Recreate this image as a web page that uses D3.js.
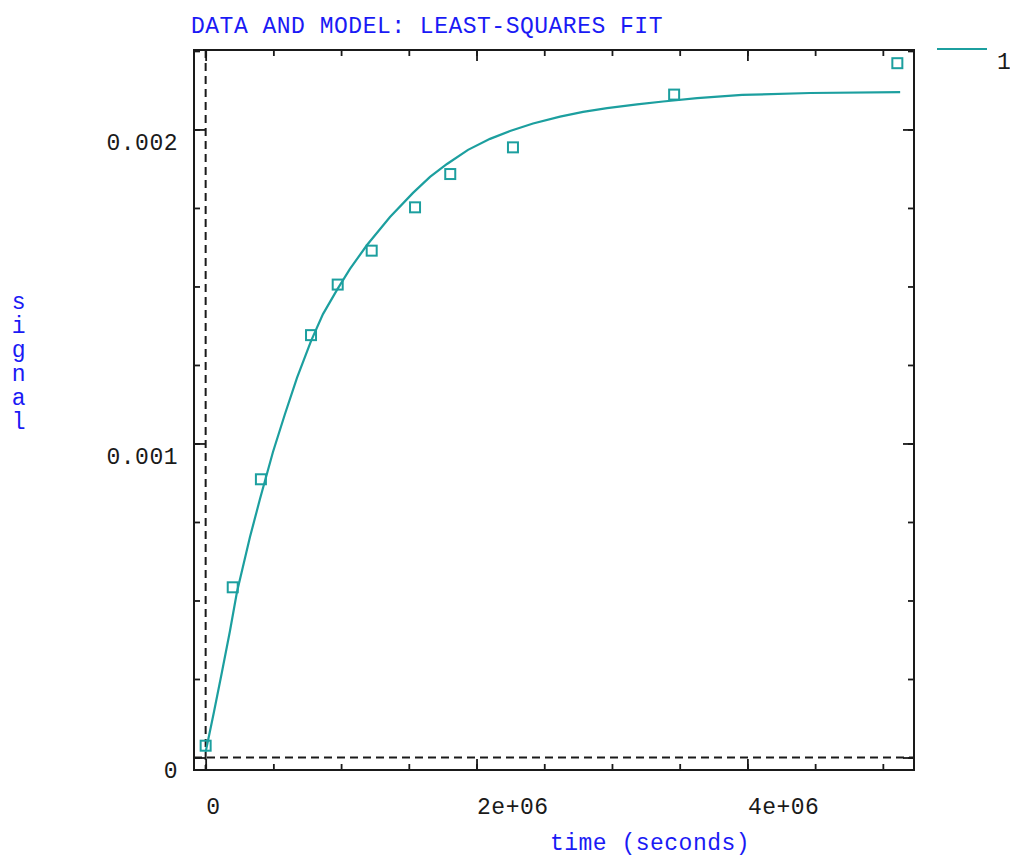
<!DOCTYPE html>
<html>
<head>
<meta charset="utf-8">
<script src="https://cdn.jsdelivr.net/npm/d3@7"></script>
<style>
  body { margin: 0; background: #fff; }
  text { font-family: "Liberation Mono", "DejaVu Sans Mono", monospace; font-size: 23px; letter-spacing: 0.5px; }
</style>
</head>
<body>
<div id="chart"></div>
<script>
const width = 1010;
const height = 857;
const teal = "#1c9f9f";
const blue = "#1a1af5";
const ink = "#1a1a1a";

// measured data points (time in seconds, signal)
const timeData = [0, 0.2e6, 0.408e6, 0.778e6, 0.975e6, 1.226e6, 1.546e6, 1.806e6, 2.269e6, 3.459e6, 5.107e6];
const signalData = [0.0000376, 0.000542, 0.000886, 0.001345, 0.001506, 0.001614, 0.001752, 0.001858, 0.001943, 0.002111, 0.002211];

// model curve
const modelTime = [0, 0.0613e6, 0.1204e6, 0.1795e6, 0.2312e6, 0.3272e6, 0.4010e6, 0.4970e6, 0.5857e6, 0.6743e6,
    0.7777e6, 0.8663e6, 0.9697e6, 1.0657e6, 1.1913e6, 1.3611e6, 1.5310e6, 1.6566e6, 1.7821e6, 1.9372e6,
    2.0997e6, 2.2474e6, 2.4173e6, 2.6167e6, 2.7866e6, 2.9638e6, 3.1854e6, 3.3774e6, 3.6285e6, 3.9609e6,
    4.4631e6, 5.1278e6];
const modelSignal = [0.0000175, 0.000145, 0.000272, 0.000403, 0.000527, 0.000702, 0.000823, 0.000973, 0.001094, 0.001209,
    0.001326, 0.001412, 0.001489, 0.001556, 0.001632, 0.001721, 0.001798, 0.001849, 0.001890, 0.001935,
    0.001970, 0.001995, 0.002019, 0.002041, 0.002056, 0.002068, 0.002080, 0.002089, 0.002100, 0.002110,
    0.002116, 0.002119];

const xMajor = [0, 2e6, 4e6];
const xMinor = d3.range(11).map(i => i * 0.5e6);
const yMajor = [0, 0.001, 0.002];
const yMinor = d3.range(10).map(i => i * 0.00025);

const plotLeft = 194, plotRight = 914, plotTop = 50, plotBottom = 770;

const x = d3.scaleLinear().domain([-0.086e6, 5.23e6]).range([plotLeft, plotRight]);
const y = d3.scaleLinear().domain([-0.0000398, 0.002253]).range([plotBottom, plotTop]);

const fmtX = d => d === 0 ? "0" : d3.format(".0e")(d).replace(/e\+(\d)$/, "e+0$1");
const fmtY = d => d === 0 ? "0" : String(+d.toFixed(4));

const svg = d3.select("#chart").append("svg")
    .attr("width", width)
    .attr("height", height);

// zero axes, dashed
svg.append("line")
    .attr("x1", x(0)).attr("x2", x(0))
    .attr("y1", plotTop).attr("y2", plotBottom)
    .attr("stroke", ink).attr("stroke-width", 2)
    .attr("stroke-dasharray", "8,5");
svg.append("line")
    .attr("x1", plotLeft).attr("x2", plotRight)
    .attr("y1", y(0)).attr("y2", y(0))
    .attr("stroke", ink).attr("stroke-width", 2)
    .attr("stroke-dasharray", "8,5");

function tickAxis(axisFn, pos, scale, values, size) {
    const g = svg.append("g")
        .attr("transform", pos)
        .call(axisFn(scale).tickValues(values).tickSize(-size).tickFormat(""));
    g.select(".domain").remove();
    g.selectAll("line").attr("stroke", ink).attr("stroke-width", 1.8);
    return g;
}

// minor + major ticks on all four sides
tickAxis(d3.axisBottom, `translate(0,${plotBottom})`, x, xMinor, 6);
tickAxis(d3.axisTop, `translate(0,${plotTop})`, x, xMinor, 6);
tickAxis(d3.axisBottom, `translate(0,${plotBottom})`, x, xMajor, 11);
tickAxis(d3.axisTop, `translate(0,${plotTop})`, x, xMajor, 11);
tickAxis(d3.axisLeft, `translate(${plotLeft},0)`, y, yMinor, 6);
tickAxis(d3.axisRight, `translate(${plotRight},0)`, y, yMinor, 6);
tickAxis(d3.axisLeft, `translate(${plotLeft},0)`, y, yMajor, 11);
tickAxis(d3.axisRight, `translate(${plotRight},0)`, y, yMajor, 11);

// tick labels
const xLab = svg.append("g")
    .attr("transform", `translate(0,${plotBottom})`)
    .call(d3.axisBottom(x).tickValues(xMajor).tickSize(0).tickFormat(fmtX));
xLab.select(".domain").remove();
xLab.selectAll("text")
    .attr("y", 44).attr("dy", 0)
    .attr("text-anchor", "start")
    .attr("fill", ink)
    .style("font-size", "23px");

const yLab = svg.append("g")
    .attr("transform", `translate(${plotLeft},0)`)
    .call(d3.axisLeft(y).tickValues(yMajor).tickSize(0).tickPadding(16).tickFormat(fmtY));
yLab.select(".domain").remove();
yLab.selectAll("text")
    .attr("y", 20).attr("dy", 0)
    .attr("fill", ink)
    .style("font-size", "23px");

// frame
svg.append("rect")
    .attr("x", plotLeft).attr("y", plotTop)
    .attr("width", plotRight - plotLeft).attr("height", plotBottom - plotTop)
    .attr("fill", "none").attr("stroke", ink).attr("stroke-width", 2);

// model curve
const line = d3.line().x((d, i) => x(modelTime[i])).y(d => y(d));
svg.append("path")
    .datum(modelSignal)
    .attr("d", line)
    .attr("fill", "none")
    .attr("stroke", teal)
    .attr("stroke-width", 2.2);

// data points
svg.append("g").selectAll("rect")
    .data(signalData)
    .join("rect")
    .attr("x", (d, i) => x(timeData[i]) - 5)
    .attr("y", d => y(d) - 5)
    .attr("width", 10).attr("height", 10)
    .attr("fill", "none")
    .attr("stroke", teal)
    .attr("stroke-width", 2);

// legend
svg.append("line")
    .attr("x1", 937).attr("x2", 987)
    .attr("y1", 49).attr("y2", 49)
    .attr("stroke", teal).attr("stroke-width", 2.2);
svg.append("text")
    .attr("x", 997).attr("y", 69)
    .attr("fill", ink)
    .text("1");

// title and axis labels
svg.append("text")
    .attr("x", 191).attr("y", 33)
    .attr("fill", blue)
    .text("DATA AND MODEL: LEAST-SQUARES FIT");

svg.append("text")
    .attr("x", 650).attr("y", 850)
    .attr("text-anchor", "middle")
    .attr("fill", blue)
    .text("time (seconds)");

svg.append("g").selectAll("text")
    .data("signal".split(""))
    .join("text")
    .attr("x", 19)
    .attr("y", (d, i) => 309 + i * 24)
    .attr("text-anchor", "middle")
    .attr("fill", blue)
    .text(d => d);
</script>
</body>
</html>
